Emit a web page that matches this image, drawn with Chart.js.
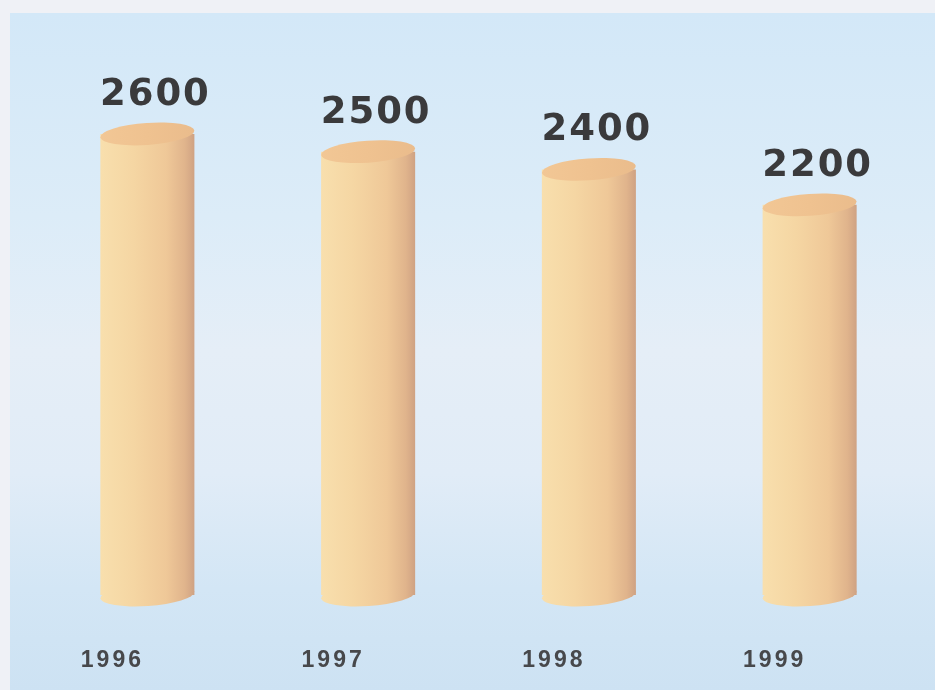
<!DOCTYPE html>
<html>
<head>
<meta charset="utf-8">
<script src="https://cdn.jsdelivr.net/npm/chart.js@4/dist/chart.umd.min.js"></script>
<style>
  html, body { margin: 0; padding: 0; background: #eff1f6; }
  #wrap { position: relative; width: 935px; height: 690px; }
</style>
</head>
<body>
<div id="wrap"><canvas id="c" width="935" height="690"></canvas></div>
<script>
const years = ['1996', '1997', '1998', '1999'];
const values = [2600, 2500, 2400, 2200];
const yMax = 3000;

const BAR_PCT = 0.426;
const RY = 11;
const TILT = -0.07;

function barWidth(chart) {
  const a = chart.chartArea;
  return (a.right - a.left) / years.length * BAR_PCT;
}
function sideGradient(ctx, x, w) {
  const g = ctx.createLinearGradient(x - w / 2, 0, x + w / 2, 0);
  g.addColorStop(0, '#f8dfad');
  g.addColorStop(0.35, '#f5d6a3');
  g.addColorStop(0.7, '#efc898');
  g.addColorStop(0.9, '#e0b48c');
  g.addColorStop(1, '#cfa283');
  return g;
}

const bgPlugin = {
  id: 'bg',
  beforeDraw(chart) {
    const ctx = chart.ctx;
    ctx.save();
    ctx.fillStyle = '#eff1f6';
    ctx.fillRect(0, 0, chart.width, chart.height);
    const g = ctx.createLinearGradient(0, 13, 0, chart.height);
    g.addColorStop(0, '#d3e8f8');
    g.addColorStop(0.3, '#dcecf8');
    g.addColorStop(0.5, '#e5eef7');
    g.addColorStop(0.68, '#e1ecf7');
    g.addColorStop(0.85, '#d3e6f5');
    g.addColorStop(1, '#cde2f3');
    ctx.fillStyle = g;
    ctx.fillRect(10, 13, chart.width - 10, chart.height - 13);
    ctx.restore();
  },
  beforeDatasetsDraw(chart) {
    const ctx = chart.ctx;
    const meta = chart.getDatasetMeta(0);
    ctx.save();
    meta.data.forEach((bar) => {
      const w = bar.width;
      ctx.beginPath();
      ctx.ellipse(bar.x, bar.base, w / 2, RY, TILT, 0, Math.PI * 2);
      ctx.fillStyle = sideGradient(ctx, bar.x, w);
      ctx.fill();
    });
    ctx.restore();
  },
  afterDatasetsDraw(chart) {
    const ctx = chart.ctx;
    const meta = chart.getDatasetMeta(0);
    ctx.save();
    meta.data.forEach((bar, i) => {
      const w = bar.width;
      ctx.beginPath();
      ctx.ellipse(bar.x, bar.y, w / 2, RY, TILT, 0, Math.PI * 2);
      const g = ctx.createLinearGradient(bar.x - w / 2, bar.y, bar.x + w / 2, bar.y);
      g.addColorStop(0, '#f2c795');
      g.addColorStop(0.5, '#efc290');
      g.addColorStop(1, '#eabc8c');
      ctx.fillStyle = g;
      ctx.fill();
      // value label
      ctx.fillStyle = '#3a3a3c';
      ctx.font = 'bold 37px "DejaVu Sans", sans-serif';
      try { ctx.letterSpacing = '2px'; } catch (e) {}
      ctx.textAlign = 'center';
      ctx.textBaseline = 'alphabetic';
      ctx.fillText(String(values[i]), bar.x + 8, bar.y - RY - 18);
    });
    ctx.restore();
  }
};

const lsPlugin = {
  id: 'ls',
  beforeDraw(chart) { try { chart.ctx.letterSpacing = '3px'; } catch (e) {} }
};

new Chart(document.getElementById('c'), {
  type: 'bar',
  data: {
    labels: years,
    datasets: [{
      data: values,
      barPercentage: BAR_PCT,
      categoryPercentage: 1,
      borderWidth: 0,
      backgroundColor: (c) => {
        const chart = c.chart;
        if (!chart.chartArea) return '#f4d19e';
        const x = chart.scales.x.getPixelForValue(c.dataIndex);
        return sideGradient(chart.ctx, x, barWidth(chart));
      }
    }]
  },
  options: {
    responsive: false,
    animation: false,
    layout: { padding: { top: 63, bottom: 19, left: 37, right: 15 } },
    plugins: { legend: { display: false }, tooltip: { enabled: false } },
    scales: {
      y: { display: false, min: 0, max: yMax },
      x: {
        grid: { display: false, drawTicks: false },
        border: { display: false },
        afterFit(scale) { scale.height = 76; },
        ticks: {
          color: '#47484b',
          font: { family: '"Liberation Sans", Arial, sans-serif', size: 23, weight: 'bold' },
          padding: 52,
          labelOffset: -35
        }
      }
    }
  },
  plugins: [lsPlugin, bgPlugin]
});
</script>
</body>
</html>
